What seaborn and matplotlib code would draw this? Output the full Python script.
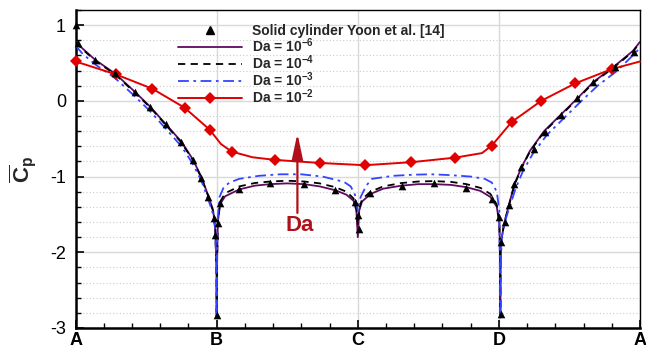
import matplotlib
matplotlib.use('Agg')
import matplotlib.pyplot as plt
import seaborn as sns
from matplotlib.lines import Line2D
from matplotlib.ticker import MultipleLocator

# ---------------- data ----------------
x_tick_pos = [0, 1, 2, 3, 4]
x_labels = ['A', 'B', 'C', 'D', 'A']
y_ticks = [-3, -2, -1, 0, 1]

# Solid cylinder, Yoon et al. [14] (triangles)
yoon_x = [0.0, 0.02, 0.137, 0.28, 0.42, 0.525, 0.64, 0.749, 0.83, 0.89, 0.937, 0.984, 0.99,
          1.0, 1.007, 1.024, 1.16, 1.38, 1.62, 1.84, 1.98, 2.0, 2.01, 2.09, 2.31, 2.54, 2.77,
          2.95, 3.0, 3.012, 3.04, 3.012, 3.07, 3.11, 3.16, 3.25, 3.325, 3.437, 3.555, 3.67,
          3.82, 3.955]
yoon_y = [1.0, 0.76, 0.54, 0.37, 0.115, -0.075, -0.31, -0.54, -0.78, -1.02, -1.27, -1.55, -1.77,
          -2.83, -1.61, -1.35, -1.16, -1.09, -1.10, -1.18, -1.33, -1.51, -1.69, -1.22, -1.13,
          -1.08, -1.15, -1.29, -1.54, -1.86, -1.60, -2.82, -1.38, -1.10, -0.88, -0.64, -0.41,
          -0.185, 0.035, 0.255, 0.45, 0.65]

# Da = 1e-6
da6_x = [0.0, 0.05, 0.14, 0.28, 0.42, 0.53, 0.64, 0.75, 0.83, 0.89, 0.94, 0.975, 0.99, 0.998,
         1.0, 1.002, 1.008, 1.025, 1.06, 1.16, 1.27, 1.38, 1.50, 1.62, 1.73, 1.84, 1.92, 1.97,
         1.99, 2.0, 2.01, 2.03, 2.09, 2.18, 2.31, 2.43, 2.54, 2.66, 2.77, 2.87, 2.94, 2.985,
         3.003, 3.008, 3.01, 3.012, 3.015, 3.04, 3.07, 3.11, 3.16, 3.22, 3.32, 3.44, 3.56,
         3.67, 3.82, 3.95, 4.0]
da6_y = [0.78, 0.69, 0.54, 0.36, 0.12, -0.08, -0.31, -0.54, -0.77, -1.00, -1.25, -1.45, -1.70,
         -2.2, -2.85, -2.2, -1.60, -1.36, -1.26, -1.17, -1.12, -1.10, -1.09, -1.10, -1.13,
         -1.18, -1.24, -1.32, -1.45, -1.80, -1.45, -1.33, -1.23, -1.16, -1.12, -1.10, -1.10,
         -1.11, -1.14, -1.19, -1.27, -1.40, -1.62, -2.0, -2.85, -2.0, -1.86, -1.60, -1.38,
         -1.10, -0.88, -0.66, -0.40, -0.18, 0.04, 0.25, 0.46, 0.66, 0.78]

# Da = 1e-4
da4_x = [0.0, 0.05, 0.14, 0.28, 0.42, 0.53, 0.64, 0.75, 0.83, 0.89, 0.94, 0.975, 0.99, 0.998,
         1.0, 1.002, 1.008, 1.025, 1.06, 1.16, 1.27, 1.38, 1.50, 1.62, 1.73, 1.84, 1.92, 1.97,
         1.99, 2.0, 2.01, 2.03, 2.09, 2.18, 2.31, 2.43, 2.54, 2.66, 2.77, 2.87, 2.94, 2.985,
         3.003, 3.008, 3.01, 3.012, 3.015, 3.04, 3.07, 3.11, 3.16, 3.22, 3.32, 3.44, 3.56,
         3.67, 3.82, 3.95, 4.0]
da4_y = [0.77, 0.68, 0.53, 0.35, 0.11, -0.09, -0.32, -0.55, -0.78, -1.01, -1.26, -1.46, -1.70,
         -2.2, -2.85, -2.2, -1.58, -1.33, -1.22, -1.13, -1.085, -1.065, -1.055, -1.065, -1.09,
         -1.14, -1.20, -1.29, -1.42, -1.64, -1.42, -1.30, -1.20, -1.13, -1.085, -1.065, -1.06,
         -1.07, -1.10, -1.15, -1.23, -1.37, -1.60, -2.0, -2.85, -2.0, -1.84, -1.60, -1.39,
         -1.11, -0.89, -0.67, -0.41, -0.19, 0.03, 0.24, 0.45, 0.65, 0.77]

# Da = 1e-3
da3_x = [0.0, 0.05, 0.14, 0.28, 0.42, 0.53, 0.64, 0.75, 0.83, 0.89, 0.94, 0.975, 0.99, 0.998,
         1.0, 1.002, 1.005, 1.02, 1.05, 1.09, 1.16, 1.30, 1.45, 1.60, 1.75, 1.86, 1.91, 1.95,
         1.98, 2.0, 2.02, 2.06, 2.10, 2.25, 2.40, 2.52, 2.65, 2.80, 2.90, 2.95, 2.985, 3.003,
         3.01, 3.013, 3.02, 3.05, 3.08, 3.12, 3.17, 3.24, 3.34, 3.46, 3.58, 3.70, 3.84, 3.96,
         4.0]
da3_y = [0.73, 0.62, 0.48, 0.30, 0.06, -0.14, -0.37, -0.60, -0.83, -1.05, -1.30, -1.50, -1.70,
         -2.2, -2.9, -2.2, -1.60, -1.27, -1.14, -1.08, -1.03, -0.99, -0.97, -0.97, -1.00,
         -1.05, -1.08, -1.13, -1.24, -1.45, -1.27, -1.12, -1.03, -0.99, -0.975, -0.97, -0.98,
         -1.00, -1.03, -1.08, -1.20, -1.45, -2.9, -2.2, -1.80, -1.55, -1.38, -1.15, -0.93,
         -0.70, -0.45, -0.23, -0.01, 0.20, 0.40, 0.62, 0.70]

# Da = 1e-2 (line with diamonds)
da2_x = [0.0, 0.285, 0.544, 0.772, 0.95, 1.03, 1.106, 1.254, 1.414, 1.73, 2.05, 2.38, 2.69,
         2.88, 2.95, 3.09, 3.30, 3.54, 3.80, 4.0]
da2_y = [0.52, 0.35, 0.16, -0.09, -0.38, -0.57, -0.67, -0.745, -0.78, -0.82, -0.85, -0.81,
         -0.75, -0.69, -0.59, -0.28, 0.0, 0.23, 0.42, 0.52]
da2_marker_idx = [0, 1, 2, 3, 4, 6, 8, 9, 10, 11, 12, 14, 15, 16, 17, 18]

legend_labels = ['Solid cylinder Yoon et al. [14]',
                 r'Da = 10$^{\mathbf{-6}}$',
                 r'Da = 10$^{\mathbf{-4}}$',
                 r'Da = 10$^{\mathbf{-3}}$',
                 r'Da = 10$^{\mathbf{-2}}$']

# ---------------- style ----------------
sns.set_style('ticks')
plt.rcParams['font.family'] = ['Liberation Sans', 'DejaVu Sans']
plt.rcParams['mathtext.fontset'] = 'custom'
plt.rcParams['mathtext.rm'] = 'Liberation Sans:bold'
plt.rcParams['mathtext.bf'] = 'Liberation Sans:bold'
plt.rcParams['mathtext.it'] = 'Liberation Sans:bold:italic'
plt.rcParams['axes.unicode_minus'] = False

c_purple = '#600a60'
c_blue = '#3344ff'
c_red = '#e00000'
c_dark = '#b0101a'

fig = plt.figure(figsize=(6.46, 3.52), dpi=100)
ax = fig.add_axes([75.6 / 646, 1 - 328 / 352, 564.4 / 646, 318 / 352])

sns.lineplot(x=da6_x, y=da6_y, sort=False, estimator=None, color=c_purple, lw=1.3, ax=ax, zorder=3)
sns.lineplot(x=da4_x, y=da4_y, sort=False, estimator=None, color='black', lw=1.3,
             linestyle=(0, (4, 3)), ax=ax, zorder=3)
sns.lineplot(x=da3_x, y=da3_y, sort=False, estimator=None, color=c_blue, lw=1.3,
             linestyle=(0, (6, 2.5, 1.5, 2.5)), ax=ax, zorder=3)
sns.lineplot(x=da2_x, y=da2_y, sort=False, estimator=None, color=c_red, lw=1.4,
             marker='D', markersize=6, markevery=da2_marker_idx, markeredgewidth=0,
             ax=ax, zorder=4, clip_on=False)
sns.scatterplot(x=yoon_x, y=yoon_y, marker='^', color='black', s=30, linewidth=0,
                ax=ax, zorder=5, clip_on=False)

# arrow + Da label
ax.annotate('', xy=(1.572, -0.43), xytext=(1.572, -1.48),
            arrowprops=dict(arrowstyle='-|>,head_length=0.8,head_width=0.17', color=c_dark,
                            lw=1.6, mutation_scale=20, shrinkA=0, shrinkB=0), zorder=6)
ax.text(1.585, -1.64, 'Da', color=c_dark, fontsize=16, fontweight='bold',
        ha='center', va='center', zorder=6)

# axes
ax.set_xlim(0, 4)
ax.set_ylim(-3, 1.2)
ax.set_xticks(x_tick_pos)
ax.set_xticklabels(x_labels, fontweight='bold', fontsize=13)
ax.xaxis.set_minor_locator(MultipleLocator(0.2))
ax.set_yticks(y_ticks)
ax.set_yticklabels([str(v) for v in y_ticks], fontsize=13)
ax.yaxis.set_minor_locator(MultipleLocator(0.2))
ax.tick_params(which='both', direction='in', top=False, right=False, colors='black')
ax.tick_params(which='major', length=6, width=1.2)
ax.tick_params(axis='y', which='major', pad=7)
ax.tick_params(axis='x', which='major', pad=3)
ax.tick_params(which='minor', length=3.5, width=1)

ax.set_axisbelow(True)
ax.grid(which='major', axis='both', color='#d9d9d9', lw=1.0, ls='-')
ax.grid(which='minor', axis='y', color='#cccccc', lw=0.8, ls=(0, (1, 2)))

for s in ['left', 'bottom']:
    ax.spines[s].set_linewidth(1.8)
    ax.spines[s].set_color('black')
for s in ['top', 'right']:
    ax.spines[s].set_linewidth(1.0)
    ax.spines[s].set_color('black')

ax.set_xlabel('')
ax.set_ylabel(r'$\mathbf{\overline{C}_{p}}$', fontsize=16, rotation=90)
ax.yaxis.set_label_coords(-0.066, 0.5)

handles = [Line2D([], [], ls='none', marker='^', color='black', markersize=6),
           Line2D([], [], color=c_purple, lw=1.3),
           Line2D([], [], color='black', lw=1.3, ls=(0, (4, 3))),
           Line2D([], [], color=c_blue, lw=1.3, ls=(0, (6, 2.5, 1.5, 2.5))),
           Line2D([], [], color=c_red, lw=1.4, marker='D', markersize=6, markeredgewidth=0)]
ax.legend(handles, legend_labels, loc='upper left', bbox_to_anchor=(0.1814, 0.956),
          frameon=False, prop={'weight': 'bold', 'size': 10}, handlelength=4.6,
          handletextpad=0.7, labelspacing=-0.12, borderpad=0, borderaxespad=0)

fig.savefig('out.png', dpi=100)
